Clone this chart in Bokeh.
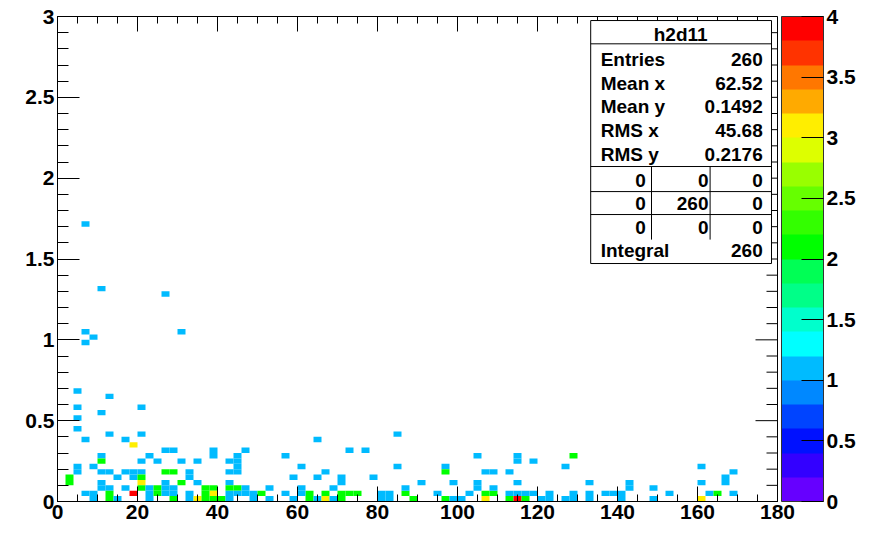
import math
from bokeh.plotting import figure
from bokeh.models import (SingleIntervalTicker, FixedTicker, NumeralTickFormatter,
                          LinearColorMapper, ColorBar, ColumnDataSource, Range1d, BoxAnnotation, Label)
from bokeh.embed import file_html
from bokeh.resources import INLINE

# ---- histogram definition (TH2D "h2d11") ----
X_BINS, X_MIN, X_MAX = 90, 0.0, 180.0
Y_BINS, Y_MIN, Y_MAX = 90, 0.0, 3.0
Z_MIN, Z_MAX = 0.0, 4.0

# non-empty cells: x-bin index, y-bin index, bin content
cell_ix = [3, 5, 13, 3, 4, 3, 15,
           2, 2, 6, 2, 5, 10, 2, 3, 6, 8, 10,
           9,
           13, 14,
           5, 5, 11, 10, 12,
           2, 2, 4,
           1, 1,
           5, 6, 7, 8, 9, 10, 9,
           10, 10, 10, 13,
           5, 5, 6, 8, 11, 11,
           12, 12,
           3, 4, 6, 9,
           4, 6, 7, 11,
           19, 19, 23, 22, 22, 21, 22, 21, 22,
           15, 17,
           14,
           16, 16,
           13, 13, 14, 13, 14,
           15, 17, 16,
           18, 19, 19,
           21, 21, 22, 22, 23, 23, 24, 25, 26,
           14, 16, 17, 18, 18, 19, 20, 21, 21, 24, 26, 28, 29, 31, 31,
           32, 28, 36, 38, 30, 29, 32, 33, 35, 35, 39,
           30, 30, 33, 34, 35, 36, 37,
           32, 33, 34, 35, 40, 41, 40, 41, 43, 44, 47, 48, 49, 50, 51, 53, 54, 53,
           56, 56, 57, 58, 57, 58, 59, 60, 61, 61,
           42, 52, 42, 48, 48, 45, 49, 52, 52, 43,
           57, 57, 59, 64, 63, 53, 54, 56, 57, 54, 64,
           63, 64, 66, 66, 66, 68, 69, 70, 70, 71, 71, 74, 74, 76, 80, 80, 80,
           81, 82, 83, 83, 84, 84]
cell_iy = [51, 39, 38, 31, 30, 29, 31,
           20, 17, 19, 15, 16, 17, 13, 11, 12, 11, 12,
           10,
           9, 9,
           8, 7, 8, 7, 7,
           6, 5, 6,
           4, 3,
           5, 5, 4, 5, 5, 5, 4,
           4, 3, 2, 5,
           3, 2, 2, 2, 2, 1,
           2, 1,
           1, 1, 1, 1,
           0, 0, 0, 0,
           9, 8, 9, 8, 7, 7, 6, 5, 5,
           7, 7,
           5,
           5, 4,
           3, 2, 2, 1, 1,
           3, 3, 1,
           2, 2, 1,
           3, 2, 2, 1, 2, 1, 1, 1, 2,
           0, 0, 0, 1, 0, 0, 0, 1, 0, 0, 0, 1, 0, 1, 0,
           11, 8, 9, 9, 6, 4, 4, 5, 4, 3, 4,
           2, 1, 1, 2, 1, 1, 1,
           0, 0, 0, 0, 1, 1, 0, 0, 1, 0, 1, 0, 0, 0, 1, 1, 1, 0,
           1, 0, 0, 0, 1, 1, 1, 0, 0, 1,
           12, 8, 6, 6, 5, 3, 3, 3, 2, 2,
           8, 7, 7, 8, 6, 5, 5, 5, 3, 2, 1,
           0, 0, 3, 1, 0, 1, 1, 1, 0, 3, 2, 2, 0, 1, 6, 3, 0,
           1, 1, 4, 3, 5, 1]
cell_count = [1, 1, 1, 1, 1, 1, 1,
              1, 1, 1, 1, 1, 1, 1, 1, 1, 1, 1,
              3,
              1, 1,
              1, 2, 1, 1, 1,
              1, 1, 1,
              2, 2,
              1, 1, 1, 1, 1, 1, 1,
              2, 3, 2, 2,
              1, 1, 1, 1, 1, 1,
              2, 2,
              1, 1, 2, 4,
              1, 2, 1, 1,
              1, 1, 1, 1, 1, 1, 1, 1, 1,
              1, 1,
              2,
              1, 1,
              1, 1, 1, 1, 1,
              2, 1, 1,
              2, 2, 3,
              1, 2, 2, 1, 1, 1, 1, 2, 1,
              2, 1, 3, 2, 2, 2, 2, 1, 1, 1, 1, 1, 1, 2, 2,
              1, 1, 1, 1, 1, 1, 1, 1, 1, 1, 1,
              1, 1, 2, 1, 2, 2, 2,
              1, 3, 1, 2, 1, 1, 1, 1, 2, 2, 1, 2, 1, 1, 1, 2, 2, 3,
              1, 2, 4, 2, 1, 1, 1, 1, 1, 1,
              1, 1, 1, 1, 2, 1, 1, 1, 1, 1,
              1, 1, 1, 2, 1, 1, 1, 1, 1, 1, 1,
              1, 1, 1, 1, 1, 1, 1, 1, 1, 1, 1, 1, 1, 1, 1, 1, 3,
              1, 2, 1, 1, 1, 1]

# 20 contour colours (ROOT rainbow palette), from 0 up to 4
PALETTE = ["#6600ff", "#3300ff", "#0011ff", "#0044ff", "#0088ff",
           "#00bbff", "#00ffff", "#00ffcc", "#00ff88", "#00ff55",
           "#00ff00", "#33ff00", "#66ff00", "#99ff00", "#ddff00",
           "#ffee00", "#ffaa00", "#ff7700", "#ff3300", "#ff0000"]
PAL_TICKS = [0, 0.5, 1, 1.5, 2, 2.5, 3, 3.5, 4]

# axis tick positions
X_MAJOR = [0, 20, 40, 60, 80, 100, 120, 140, 160, 180]
X_MINOR = [v for v in range(0, 181, 5) if v % 20 != 0]
Y_MAJOR = [0, 0.5, 1.0, 1.5, 2.0, 2.5, 3.0]
Y_MINOR = [k / 10 for k in range(0, 31) if k % 5 != 0]

# statistics box texts
STAT_TITLE = "h2d11"
STAT_NAMES = ["Entries", "Mean x", "Mean y", "RMS x", "RMS y"]
STAT_VALUES = ["260", "62.52", "0.1492", "45.68", "0.2176"]
STAT_GRID = [["0", "0", "0"], ["0", "260", "0"], ["0", "0", "0"]]
STAT_INTEGRAL = "260"

dx = (X_MAX - X_MIN) / X_BINS
dy = (Y_MAX - Y_MIN) / Y_BINS
src = ColumnDataSource(dict(
    left=[X_MIN + i * dx for i in cell_ix],
    right=[X_MIN + (i + 1) * dx for i in cell_ix],
    bottom=[Y_MIN + j * dy for j in cell_iy],
    top=[Y_MIN + (j + 1) * dy for j in cell_iy],
    count=cell_count,
))

FONT = "Liberation Sans"
mapper = LinearColorMapper(palette=PALETTE, low=Z_MIN, high=Z_MAX)

p = figure(width=881, height=536, x_range=Range1d(X_MIN, X_MAX), y_range=Range1d(Y_MIN, Y_MAX),
           output_backend="svg", toolbar_location=None,
           min_border_left=57, min_border_right=104, min_border_top=16, min_border_bottom=35)
p.grid.visible = False
p.outline_line_color = "black"
p.background_fill_color = "white"
p.border_fill_color = "white"

p.quad(left="left", right="right", bottom="bottom", top="top", source=src,
       fill_color={"field": "count", "transform": mapper}, line_color=None)


def style_axis(ax, major_len, minor_len):
    ax.major_tick_in = major_len
    ax.major_tick_out = 0
    ax.minor_tick_in = minor_len
    ax.minor_tick_out = 0
    ax.axis_line_color = "black"
    ax.major_tick_line_color = "black"
    ax.minor_tick_line_color = "black"
    ax.major_label_text_font = FONT
    ax.major_label_text_font_style = "bold"
    ax.major_label_text_font_size = "21px"
    ax.major_label_text_color = "black"
    ax.major_label_standoff = 3
    ax.formatter = NumeralTickFormatter(format="0.[0]")


p.xaxis.ticker = SingleIntervalTicker(interval=20, num_minor_ticks=4)
p.yaxis.ticker = SingleIntervalTicker(interval=0.5, num_minor_ticks=5)
style_axis(p.xaxis[0], 15, 7)
style_axis(p.yaxis[0], 22, 11)

# mirrored ticks on the top and right frame edges (pointing inwards)
p.ray(x=X_MAJOR, y=Y_MAX, length=15, length_units="screen", angle=-math.pi / 2,
      line_color="black", line_width=1)
p.ray(x=X_MINOR, y=Y_MAX, length=7, length_units="screen", angle=-math.pi / 2,
      line_color="black", line_width=1)
p.ray(x=X_MAX, y=Y_MAJOR, length=22, length_units="screen", angle=math.pi,
      line_color="black", line_width=1)
p.ray(x=X_MAX, y=Y_MINOR, length=11, length_units="screen", angle=math.pi,
      line_color="black", line_width=1)

cb = ColorBar(color_mapper=mapper, ticker=FixedTicker(ticks=PAL_TICKS),
              formatter=NumeralTickFormatter(format="0.[0]"),
              width=42, height=485, padding=0, margin=0, location=(4, 0),
              major_tick_in=22, major_tick_out=0, major_tick_line_color="black",
              minor_tick_line_color=None, label_standoff=3,
              major_label_text_font=FONT, major_label_text_font_style="bold",
              major_label_text_font_size="21px", major_label_text_color="black",
              bar_line_color="#333333", border_line_color=None, background_fill_color=None)
p.add_layout(cb, "right")

# ---- statistics box ----
p.add_layout(BoxAnnotation(left=133.3, right=178.5, bottom=1.472, top=2.975,
                           fill_color="white", fill_alpha=1.0, line_color="black", line_width=1,
                           line_alpha=1.0))
p.segment(x0=[133.3, 133.3, 133.3, 133.3, 148.5, 163.15],
          y0=[2.831, 2.072, 1.917, 1.775, 2.072, 2.072],
          x1=[178.5, 178.5, 178.5, 178.5, 148.5, 163.15],
          y1=[2.831, 2.072, 1.917, 1.775, 1.620, 1.620],
          line_color="black", line_width=1, level="overlay")


def stat_label(x, y, text, align):
    p.add_layout(Label(x=x, y=y, text=text, text_align=align, text_baseline="middle",
                       text_font=FONT, text_font_style="bold", text_font_size="19px",
                       text_color="black", level="overlay"))


stat_label(155.8, 2.888, STAT_TITLE, "center")
for name, val, yy in zip(STAT_NAMES, STAT_VALUES, [2.733, 2.585, 2.443, 2.295, 2.146]):
    stat_label(135.8, yy, name, "left")
    stat_label(176.3, yy, val, "right")
for row, yy in zip(STAT_GRID, [1.985, 1.843, 1.695]):
    for val, xx in zip(row, [147.1, 162.75, 176.3]):
        stat_label(xx, yy, val, "right")
stat_label(135.8, 1.552, "Integral", "left")
stat_label(176.3, 1.552, STAT_INTEGRAL, "right")

open("out.html", "w").write(file_html(p, INLINE))
